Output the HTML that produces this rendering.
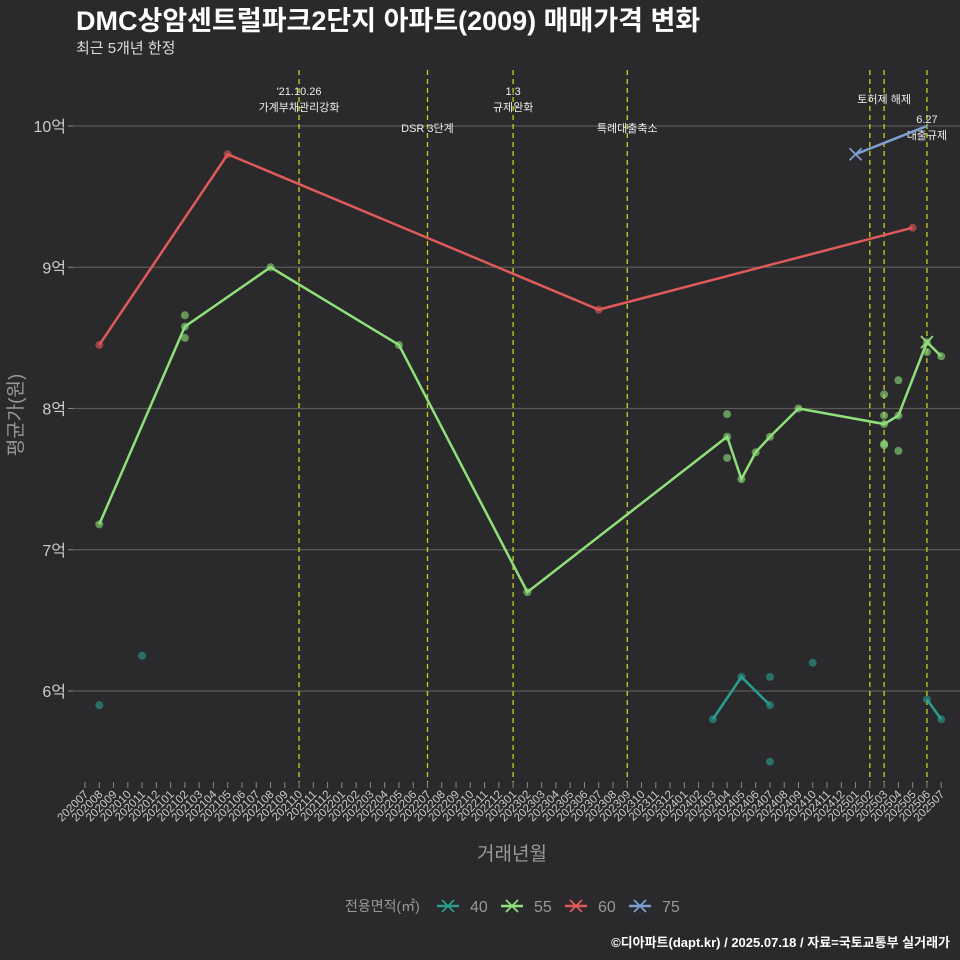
<!DOCTYPE html>
<html><head><meta charset="utf-8"><style>
body{margin:0;background:#2a292b;}
svg{display:block;font-family:"Liberation Sans","Noto Sans CJK KR",sans-serif;}
</style></head><body>
<svg id="c" width="960" height="960" xmlns="http://www.w3.org/2000/svg">
<rect width="960" height="960" fill="#2a292b"/>
<text x="76" y="30" fill="#fff" font-size="27" font-weight="bold">DMC상암센트럴파크2단지 아파트(2009) 매매가격 변화</text>
<text x="76" y="53" fill="#ddd" font-size="15">최근 5개년 한정</text>
<text x="512" y="860" fill="#999" font-size="19" text-anchor="middle">거래년월</text>
<text transform="translate(22,415) rotate(-90)" fill="#999" font-size="19" text-anchor="middle">평균가(원)</text>
<text x="950" y="947" fill="#fff" font-size="13" font-weight="bold" text-anchor="end">©디아파트(dapt.kr) / 2025.07.18 / 자료=국토교통부 실거래가</text>
<g id="grid"></g><g id="vl"></g><g id="ser"></g><g id="ax"></g><g id="leg"></g>
</svg>
<script>
const months=[];for(let y=2020;y<=2025;y++)for(let m=1;m<=12;m++){const k=y*100+m;if(k>=202007&&k<=202507)months.push(String(k));}
const yTicks=[6,7,8,9,10];
const yTickLabels=["6억","7억","8억","9억","10억"];
const eventMonths=["202110","202207","202301","202309","202502","202503","202506"];
const eventLabels=[["'21.10.26","가계부채관리강화"],["DSR 3단계"],["1.3","규제완화"],["특례대출축소"],[],["토허제 해제"],["6.27","대출규제"]];
const eventLabelY=[91,128,91,128,0,99,119];
const s40aMonths=["202403","202405","202407"];
const s40aValues=[5.80,6.10,5.90];
const s40bMonths=["202506","202507"];
const s40bValues=[5.94,5.80];
const s40PtMonths=["202008","202011","202407","202407","202410"];
const s40PtValues=[5.90,6.25,6.10,5.50,6.20];
const s55Months=["202008","202102","202108","202205","202302","202404","202405","202406","202407","202409","202503","202504","202506","202507"];
const s55Values=[7.18,8.58,9.00,8.45,6.70,7.80,7.50,7.69,7.80,8.00,7.89,7.95,8.47,8.37];
const s55PtMonths=["202102","202102","202404","202404","202503","202503","202503","202503","202504","202504","202506"];
const s55PtValues=[8.66,8.50,7.96,7.65,8.10,7.95,7.75,7.74,8.20,7.70,8.40];
const s60Months=["202008","202105","202307","202505"];
const s60Values=[8.45,9.80,8.70,9.28];
const s75Months=["202501","202506"];
const s75Values=[9.80,10.00];
const legendLabels=["40","55","60","75"];
const colors=["#2a9d8f","#8fe07a","#e05a5a","#7f9fd0"];
const NS="http://www.w3.org/2000/svg";
const X=m=>85+months.indexOf(m)*14.27;
const Y=v=>126+(10-v)*141.25;
function el(p,t,a){const e=document.createElementNS(NS,t);for(const k in a)e.setAttribute(k,a[k]);document.getElementById(p).appendChild(e);return e;}
yTicks.forEach((v,i)=>{
 const g=el("grid","line",{x1:73,x2:960,y1:Y(v),y2:Y(v),stroke:"#5a5a5a","stroke-width":1.2});
 
 
 el("ax","line",{x1:68,x2:73,y1:Y(v),y2:Y(v),stroke:"#888"});
 const t=el("ax","text",{x:66,y:Y(v)+6,fill:"#ccc","font-size":16,"text-anchor":"end"});t.textContent=yTickLabels[i];
 
 
});
months.forEach(m=>{
 const x=X(m);
 el("ax","line",{x1:x,x2:x,y1:782,y2:788,stroke:"#888"});
 const t=el("ax","text",{transform:`translate(${x+4},${795}) rotate(-45)`,fill:"#ccc","font-size":11.5,"text-anchor":"end"});t.textContent=m;
 
 
});
eventMonths.forEach((m,i)=>{
 const x=X(m);
 const l=el("vl","line",{x1:x,x2:x,y1:70,y2:782,stroke:"#c8d21e","stroke-width":1.3,"stroke-dasharray":"5,4"});
 
 
 eventLabels[i].forEach((s,j)=>{
  const t=el("vl","text",{x:x,y:eventLabelY[i]+4+j*16,fill:"#eee","font-size":11,"text-anchor":"middle"});t.textContent=s;
  
  
 });
});
function line(ms,vs,c,name){
 const p=el("ser","polyline",{points:ms.map((m,i)=>X(m)+","+Y(vs[i])).join(" "),fill:"none",stroke:c,"stroke-width":2.5});
 
 
}
function pts(ms,vs,c,name){
 ms.forEach((m,i)=>{
  const d=el("ser","circle",{cx:X(m),cy:Y(vs[i]),r:4,fill:c,"fill-opacity":0.6});
  
  
 });
}
function xm(x,y,c){el("ser","path",{d:`M${x-6},${y-6}L${x+6},${y+6}M${x-6},${y+6}L${x+6},${y-6}`,stroke:c,"stroke-width":1.8});}
line(s40aMonths,s40aValues,colors[0],"line-40");line(s40bMonths,s40bValues,colors[0],"line-40");
pts(s40aMonths,s40aValues,colors[0],"point-40");pts(s40bMonths,s40bValues,colors[0],"point-40");pts(s40PtMonths,s40PtValues,colors[0],"point-40");
line(s55Months,s55Values,colors[1],"line-55");pts(s55Months,s55Values,colors[1],"point-55");pts(s55PtMonths,s55PtValues,colors[1],"point-55");
line(s60Months,s60Values,colors[2],"line-60");pts(s60Months,s60Values,colors[2],"point-60");
line(s75Months,s75Values,colors[3],"line-75");
xm(X(s75Months[0]),Y(s75Values[0]),colors[3]);
xm(X(s55Months[12]),Y(s55Values[12]),colors[1]);
const lt=el("leg","text",{x:345,y:911,fill:"#999","font-size":14});lt.textContent="전용면적(㎡)";


legendLabels.forEach((s,i)=>{
 const x0=437+i*64;
 const g=el("leg","g",{});
 
 
 const e1=document.createElementNS(NS,"line");[["x1",x0],["x2",x0+22],["y1",906],["y2",906],["stroke",colors[i]],["stroke-width",2.5]].forEach(a=>e1.setAttribute(a[0],a[1]));g.appendChild(e1);
 const e2=document.createElementNS(NS,"path");e2.setAttribute("d",`M${x0+5},${900}L${x0+17},${912}M${x0+5},${912}L${x0+17},${900}`);e2.setAttribute("stroke",colors[i]);e2.setAttribute("stroke-width",1.8);g.appendChild(e2);
 const t=document.createElementNS(NS,"text");t.setAttribute("x",x0+33);t.setAttribute("y",912);t.setAttribute("fill","#999");t.setAttribute("font-size",16);t.textContent=s;g.appendChild(t);
});
</script>
</body></html>
